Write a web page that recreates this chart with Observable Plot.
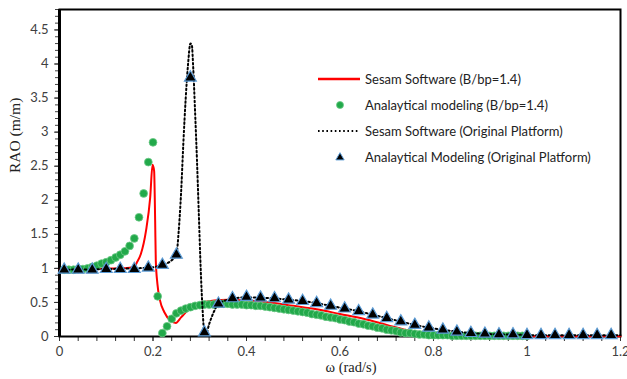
<!DOCTYPE html>
<html>
<head>
<meta charset="utf-8">
<script src="https://cdn.jsdelivr.net/npm/d3@7"></script>
<script src="https://cdn.jsdelivr.net/npm/@observablehq/plot@0.6"></script>
<style>
  html, body { margin: 0; padding: 0; background: #fff; }
  #wrap { position: relative; width: 627px; height: 379px; }
  #legend { position: absolute; left: 318px; top: 66px; font-family: Lato, "Open Sans", sans-serif; font-size: 13px; color: #222; }
  #legend .row { display: flex; align-items: center; height: 26px; }
  #legend svg { width: 42px; height: 12px; margin-right: 5px; flex: none; }
</style>
</head>
<body>
<div id="wrap"><div id="legend"></div></div>
<script>
// ---- Data ----
const seriesNames = [
  "Sesam Software (B/bp=1.4)",
  "Analaytical modeling (B/bp=1.4)",
  "Sesam Software (Original Platform)",
  "Analaytical Modeling (Original Platform)"
];

// Sesam Software (B/bp=1.4) — red solid line
const redW = [0.00,0.05,0.10,0.13,0.15,0.16,0.165,0.174,0.185,0.194,0.199,0.2024,0.2046,0.206,0.2095,0.215,0.224,0.238,0.249,0.26,0.274,0.295,0.331,0.36,0.40,0.45,0.50,0.55,0.60,0.65,0.70,0.75,0.80,0.85,0.90,1.00,1.10,1.20];
const redR = [0.98,0.99,1.00,1.00,1.01,1.02,1.08,1.21,1.55,2.04,2.52,2.43,1.70,1.11,0.77,0.53,0.36,0.23,0.20,0.28,0.38,0.48,0.53,0.54,0.53,0.50,0.45,0.40,0.33,0.26,0.17,0.08,0.03,0.01,0.01,0.005,0.005,0.005];

// Analaytical modeling (B/bp=1.4) — green circles
const greenW = [0.01,0.02,0.03,0.04,0.05,0.06,0.07,0.08,0.09,0.10,
  0.11,0.12,0.13,0.14,0.15,0.16,0.17,0.18,0.19,0.20,
  0.21,0.22,0.23,0.24,0.25,0.26,0.27,0.28,0.29,0.30,
  0.31,0.32,0.33,0.34,0.35,0.36,0.37,0.38,0.39,0.40,
  0.41,0.42,0.43,0.44,0.45,0.46,0.47,0.48,0.49,0.50,
  0.51,0.52,0.53,0.54,0.55,0.56,0.57,0.58,0.59,0.60,
  0.61,0.62,0.63,0.64,0.65,0.66,0.67,0.68,0.69,0.70,
  0.71,0.72,0.73,0.74,0.75,0.76,0.77,0.78,0.79,0.80,
  0.81,0.82,0.83,0.84,0.85,0.86,0.87,0.88,0.89,0.90,
  0.91,0.92,0.93,0.94,0.95,0.96,0.97,0.98,0.99,1.00];
const greenR = [0.98,0.98,0.98,0.99,0.99,1.00,1.02,1.04,1.07,1.09,
  1.12,1.16,1.20,1.25,1.33,1.44,1.75,2.10,2.56,2.85,
  0.59,0.05,0.15,0.26,0.34,0.38,0.41,0.43,0.45,0.46,
  0.47,0.47,0.47,0.48,0.48,0.48,0.47,0.47,0.47,0.46,
  0.46,0.45,0.45,0.44,0.43,0.42,0.41,0.40,0.39,0.38,
  0.37,0.36,0.35,0.33,0.32,0.31,0.29,0.28,0.27,0.25,
  0.24,0.22,0.21,0.19,0.18,0.16,0.15,0.13,0.12,0.10,
  0.09,0.08,0.06,0.05,0.05,0.04,0.03,0.03,0.02,0.02,
  0.02,0.02,0.02,0.01,0.01,0.01,0.01,0.01,0.01,0.01,
  0.01,0.01,0.01,0.01,0.01,0.01,0.01,0.01,0.01,0.01];

// Sesam Software (Original Platform) — black dotted line
const dotW = [0.00,0.10,0.19,0.22,0.24,0.25,0.255,0.26,0.265,0.27,0.275,0.28,0.283,0.286,0.29,0.294,0.298,0.302,0.306,0.31,0.314,0.32,0.33,0.34,0.355,0.37,0.40,0.43,0.46,0.49,0.52,0.55,0.58,0.61,0.64,0.67,0.70,0.73,0.76,0.79,0.82,0.85,0.88,0.91,0.94,0.97,1.00,1.05,1.10,1.15,1.20];
const dotR = [0.98,0.99,1.01,1.05,1.12,1.20,1.55,2.10,2.85,3.50,4.00,4.30,4.28,3.95,3.30,2.60,1.80,1.00,0.40,0.06,0.05,0.18,0.36,0.48,0.53,0.555,0.575,0.57,0.56,0.54,0.52,0.49,0.45,0.41,0.37,0.32,0.27,0.22,0.17,0.13,0.10,0.07,0.05,0.04,0.03,0.03,0.02,0.02,0.02,0.02,0.02];

// Analaytical Modeling (Original Platform) — black triangles
const triW = [0.01,0.04,0.07,0.10,0.13,0.16,0.19,0.22,0.25,0.28,
  0.31,0.34,0.37,0.40,0.43,0.46,0.49,0.52,0.55,0.58,
  0.61,0.64,0.67,0.70,0.73,0.76,0.79,0.82,0.85,0.88,
  0.91,0.94,0.97,1.00,1.03,1.06,1.09,1.12,1.15,1.18];
const triR = [0.98,0.98,0.98,0.99,0.99,0.99,1.01,1.05,1.20,3.80,
  0.06,0.48,0.56,0.58,0.57,0.56,0.54,0.52,0.49,0.45,
  0.41,0.37,0.32,0.27,0.22,0.17,0.13,0.10,0.07,0.05,
  0.04,0.03,0.03,0.02,0.02,0.02,0.02,0.02,0.02,0.02];

const xMajor = [0, 0.2, 0.4, 0.6, 0.8, 1, 1.2];
const xMinor = d3.range(0, 31).map(i => i * 0.04);
const yMajor = [0, 0.5, 1, 1.5, 2, 2.5, 3, 3.5, 4, 4.5];
const yMinor = d3.range(0, 49).map(i => i / 10);
const xTitle = "ω (rad/s)";
const yTitle = "RAO (m/m)";

// ---- Build tables ----
const red = redW.map((w, i) => ({w, r: redR[i]}));
const green = greenW.map((w, i) => ({w, r: greenR[i]}));
const dotted = dotW.map((w, i) => ({w, r: dotR[i]}));
const tri = triW.map((w, i) => ({w, r: triR[i]}));

const RED = "#ff0000", GREEN = "#22a94a", GREEN_EDGE = "#6cc987", TRI_EDGE = "#5b9bd5";
const tickFont = "Lato, 'Open Sans', sans-serif";
const DASH = "1.6,2.6";

const chart = Plot.plot({
  width: 627, height: 379,
  marginLeft: 59, marginRight: 7, marginTop: 9, marginBottom: 43,
  style: {fontFamily: tickFont, fontSize: "13px", background: "white", overflow: "visible"},
  x: {domain: [0, 1.2], label: null},
  y: {domain: [0, 4.8], label: null},
  marks: [
    Plot.axisY(yMinor, {tickSize: 4, tickFormat: () => "", stroke: "#444", strokeWidth: 1}),
    Plot.axisY(yMajor, {tickSize: 5, tickPadding: 6, stroke: "#333", fill: "#404040", fontSize: 13, tickFormat: d => String(d)}),
    Plot.axisX(xMinor, {tickSize: 5, tickFormat: () => "", stroke: "#333", strokeWidth: 1}),
    Plot.axisX(xMajor, {tickSize: 5, tickPadding: 5, stroke: "#333", fill: "#404040", fontSize: 13, tickFormat: d => String(d)}),
    Plot.frame({stroke: "black", strokeWidth: 2}),
    Plot.ruleX([0], {stroke: "black", strokeWidth: 3}),
    Plot.line(red, {x: "w", y: "r", stroke: RED, strokeWidth: 2, curve: "monotone-x"}),
    Plot.dot(green, {x: "w", y: "r", r: 3.9, fill: GREEN, stroke: GREEN_EDGE, strokeWidth: 0.8}),
    Plot.line(dotted, {x: "w", y: "r", stroke: "black", strokeWidth: 2, strokeDasharray: DASH, curve: "monotone-x"}),
    Plot.dot(tri, {x: "w", y: "r", symbol: "triangle", r: 4.4, fill: "black", stroke: TRI_EDGE, strokeWidth: 1.2}),
    Plot.text([xTitle], {frameAnchor: "bottom", dx: 11, dy: 35, fontFamily: "'Liberation Serif', 'DejaVu Serif', serif", fontSize: 14.5, fill: "#222"}),
    Plot.text([yTitle], {frameAnchor: "left", dx: -44, rotate: -90, fontFamily: "'Liberation Serif', 'DejaVu Serif', serif", fontSize: 15.5, fill: "#222"})
  ]
});
document.getElementById("wrap").prepend(chart);

// ---- Legend (HTML overlay) ----
const legend = document.getElementById("legend");
const swatches = [
  `<line x1="0" y1="6" x2="42" y2="6" stroke="${RED}" stroke-width="2.5"/>`,
  `<circle cx="22" cy="6" r="3.5" fill="${GREEN}" stroke="${GREEN_EDGE}" stroke-width="0.8"/>`,
  `<line x1="0" y1="6" x2="42" y2="6" stroke="black" stroke-width="2" stroke-dasharray="${DASH}"/>`,
  `<path d="${d3.symbol(d3.symbolTriangle, 30)()}" transform="translate(22,6.5)" fill="black" stroke="${TRI_EDGE}" stroke-width="1"/>`
];
seriesNames.forEach((name, i) => {
  const row = document.createElement("div");
  row.className = "row";
  row.innerHTML = `<svg viewBox="0 0 42 12">${swatches[i]}</svg><span>${name}</span>`;
  legend.appendChild(row);
});
</script>
</body>
</html>
